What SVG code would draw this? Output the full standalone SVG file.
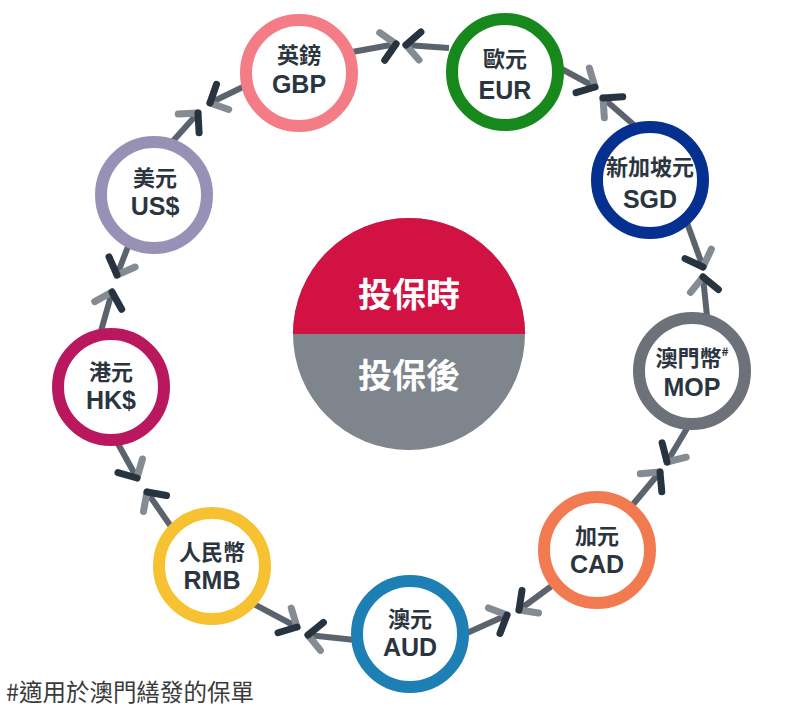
<svg xmlns="http://www.w3.org/2000/svg" xmlns:xlink="http://www.w3.org/1999/xlink" width="786" height="716" viewBox="0 0 786 716">
<defs>
<style>
.shaft{stroke:#5b646d;stroke-width:6;fill:none;stroke-linecap:butt}
.lt{stroke:#858b93;stroke-width:7;stroke-linecap:round}
.dk{stroke:#27343f;stroke-width:7;stroke-linecap:round}
.ring{fill:#ffffff;stroke-width:12}
.zh{font-family:"Noto Sans CJK TC","Noto Sans CJK SC",sans-serif;font-weight:700;font-size:22px;fill:#2b3540;text-anchor:middle}
.en{font-family:"Liberation Sans",Arial,sans-serif;font-weight:700;font-size:25px;fill:#2b3540;text-anchor:middle}
.ctr{font-family:"Noto Sans CJK TC","Noto Sans CJK SC",sans-serif;font-weight:700;font-size:34px;fill:#ffffff;text-anchor:middle}
.note{font-family:"Noto Sans CJK TC","Noto Sans CJK SC",sans-serif;font-size:23.5px;fill:#3a3a3a}
</style>
<g id="ah">
<line x1="0" y1="0" x2="-14" y2="-14" class="lt"/>
<line x1="0" y1="0" x2="-14" y2="14" class="dk"/>
</g>
</defs>
<rect width="786" height="716" fill="#ffffff"/>

<g id="connectors">
<line class="shaft" x1="352" y1="52" x2="396" y2="44"/><use xlink:href="#ah" transform="translate(396,44) rotate(-10.3)"/>
<line class="shaft" x1="449" y1="48" x2="406" y2="45"/><use xlink:href="#ah" transform="translate(406,45) rotate(184)"/>
<line class="shaft" x1="558" y1="67" x2="595" y2="87"/><use xlink:href="#ah" transform="translate(595,87) rotate(28.4)"/>
<line class="shaft" x1="634" y1="125" x2="603" y2="98"/><use xlink:href="#ah" transform="translate(603,98) rotate(-138.9)"/>
<line class="shaft" x1="686" y1="220" x2="703" y2="267"/><use xlink:href="#ah" transform="translate(703,267) rotate(70.1)"/>
<line class="shaft" x1="707" y1="316" x2="703" y2="277"/><use xlink:href="#ah" transform="translate(703,277) rotate(-95.9)"/>
<line class="shaft" x1="689" y1="425" x2="667" y2="462"/><use xlink:href="#ah" transform="translate(667,462) rotate(120.7)"/>
<line class="shaft" x1="630" y1="508" x2="660" y2="472"/><use xlink:href="#ah" transform="translate(660,472) rotate(-50.2)"/>
<line class="shaft" x1="553" y1="585" x2="519" y2="610"/><use xlink:href="#ah" transform="translate(519,610) rotate(143.7)"/>
<line class="shaft" x1="467" y1="633" x2="507" y2="615"/><use xlink:href="#ah" transform="translate(507,615) rotate(-24.2)"/>
<line class="shaft" x1="355" y1="640" x2="308" y2="635"/><use xlink:href="#ah" transform="translate(308,635) rotate(186.1)"/>
<line class="shaft" x1="252" y1="603" x2="297" y2="627"/><use xlink:href="#ah" transform="translate(297,627) rotate(28.1)"/>
<line class="shaft" x1="117" y1="442" x2="137" y2="478"/><use xlink:href="#ah" transform="translate(137,478) rotate(60.9)"/>
<line class="shaft" x1="172" y1="528" x2="147" y2="492"/><use xlink:href="#ah" transform="translate(147,492) rotate(-124.8)"/>
<line class="shaft" x1="129" y1="244" x2="117" y2="275"/><use xlink:href="#ah" transform="translate(117,275) rotate(111.2)"/>
<line class="shaft" x1="101" y1="331" x2="112" y2="292"/><use xlink:href="#ah" transform="translate(112,292) rotate(-74.2)"/>
<line class="shaft" x1="245" y1="86" x2="210" y2="103"/><use xlink:href="#ah" transform="translate(210,103) rotate(154.1)"/>
<line class="shaft" x1="173" y1="141" x2="198" y2="113"/><use xlink:href="#ah" transform="translate(198,113) rotate(-48.2)"/>
</g>

<g id="center">
<circle cx="409" cy="334" r="116" fill="#7e858d"/>
<path d="M293,334 A116,116 0 0 1 525,334 Z" fill="#d11242"/>
<text class="ctr" x="409" y="307">投保時</text>
<text class="ctr" x="409" y="388">投保後</text>
</g>

<g id="gbp">
<circle class="ring" cx="299" cy="73" r="53" stroke="#f47c86"/>
<text class="zh" x="299" y="63">英鎊</text>
<text class="en" x="299" y="93">GBP</text>
</g>
<g id="eur">
<circle class="ring" cx="505" cy="72" r="53" stroke="#17891c"/>
<text class="zh" x="505" y="67">歐元</text>
<text class="en" x="505" y="99">EUR</text>
</g>
<g id="sgd">
<circle class="ring" cx="650" cy="180" r="53" stroke="#06308f"/>
<text class="zh" x="650" y="175">新加坡元</text>
<text class="en" x="650" y="208">SGD</text>
</g>
<g id="mop">
<circle class="ring" cx="692" cy="371" r="53" stroke="#6d7179"/>
<text class="zh" x="692" y="366">澳門幣<tspan font-size="12" dy="-10">#</tspan></text>
<text class="en" x="692" y="396">MOP</text>
</g>
<g id="cad">
<circle class="ring" cx="597" cy="550" r="53" stroke="#f27a50"/>
<text class="zh" x="597" y="544">加元</text>
<text class="en" x="597" y="573">CAD</text>
</g>
<g id="aud">
<circle class="ring" cx="410" cy="634" r="53" stroke="#1e7fb5"/>
<text class="zh" x="410" y="627">澳元</text>
<text class="en" x="410" y="656">AUD</text>
</g>
<g id="rmb">
<circle class="ring" cx="212" cy="566" r="53" stroke="#f6c232"/>
<text class="zh" x="212" y="560">人民幣</text>
<text class="en" x="212" y="589">RMB</text>
</g>
<g id="hkd">
<circle class="ring" cx="111" cy="387" r="53" stroke="#b9185f"/>
<text class="zh" x="111" y="380">港元</text>
<text class="en" x="111" y="409">HK$</text>
</g>
<g id="usd">
<circle class="ring" cx="154" cy="195" r="53" stroke="#9990b6"/>
<text class="zh" x="155" y="186">美元</text>
<text class="en" x="155" y="215">US$</text>
</g>

<text class="note" x="6" y="701">#適用於澳門繕發的保單</text>
</svg>
